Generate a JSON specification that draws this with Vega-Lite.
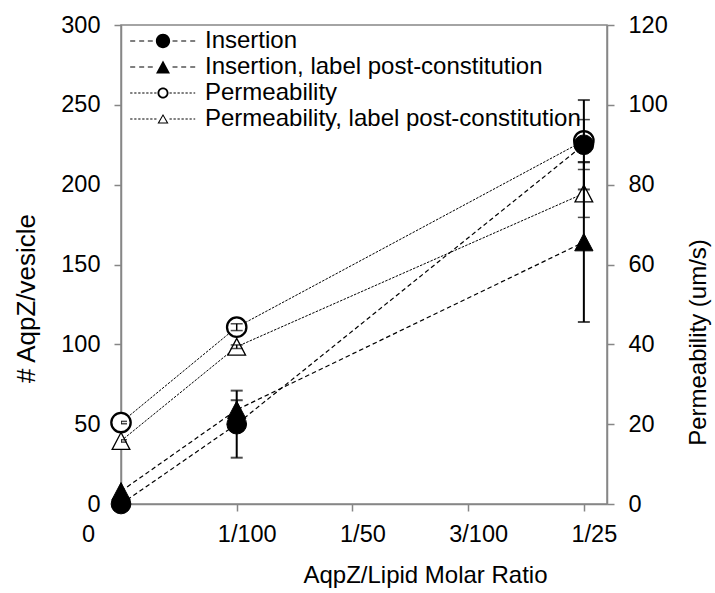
{
  "$schema": "https://vega.github.io/schema/vega-lite/v6.json",
  "width": 486,
  "height": 479,
  "autosize": {"type": "none"},
  "padding": {"left": 121, "top": 25, "right": 108, "bottom": 89},
  "background": "white",
  "config": {
    "font": "Liberation Sans",
    "view": {"stroke": "#868686", "strokeWidth": 1.5},
    "axis": {
      "grid": false,
      "domainColor": "#868686",
      "domainWidth": 1.5,
      "tickColor": "#868686",
      "tickWidth": 1.5,
      "tickSize": 7,
      "labelFont": "Liberation Sans",
      "labelFontSize": 23.5,
      "labelColor": "black",
      "titleFont": "Liberation Sans",
      "titleFontSize": 24,
      "titleFontWeight": "normal",
      "titleColor": "black"
    }
  },
  "datasets": {
    "insertion": [
      {"ratio": 0, "series": "Insertion", "value": 0, "err": null},
      {"ratio": 0.01, "series": "Insertion", "value": 50, "err": 21},
      {"ratio": 0.04, "series": "Insertion", "value": 225, "err": 28},
      {"ratio": 0, "series": "Insertion, label post-constitution", "value": 8, "err": null},
      {"ratio": 0.01, "series": "Insertion, label post-constitution", "value": 59, "err": 6},
      {"ratio": 0.04, "series": "Insertion, label post-constitution", "value": 164, "err": 50}
    ],
    "permeability": [
      {"ratio": 0, "series": "Permeability", "value": 20.4, "err": 0.3},
      {"ratio": 0.01, "series": "Permeability", "value": 44.3, "err": 0.85},
      {"ratio": 0.04, "series": "Permeability", "value": 91, "err": 5.3},
      {"ratio": 0, "series": "Permeability, label post-constitution", "value": 15.8, "err": 0.3},
      {"ratio": 0.01, "series": "Permeability, label post-constitution", "value": 39.4, "err": 0.45},
      {"ratio": 0.04, "series": "Permeability, label post-constitution", "value": 77.8, "err": 6}
    ]
  },
  "encoding": {
    "x": {
      "field": "ratio",
      "type": "quantitative",
      "scale": {"domain": [0, 0.042], "nice": false, "zero": true},
      "axis": {
        "title": "AqpZ/Lipid Molar Ratio",
        "values": [0, 0.01, 0.02, 0.03, 0.04],
        "labelExpr": "datum.value < 0.005 ? '0' : datum.value < 0.015 ? '1/100' : datum.value < 0.025 ? '1/50' : datum.value < 0.035 ? '3/100' : '1/25'",
        "labelOffset": {"expr": "datum.value < 0.005 ? -33 : 10"},
        "labelPadding": 11,
        "labelFlush": false,
        "labelOverlap": false,
        "titlePadding": 18,
        "titleX": 304
      }
    }
  },
  "layer": [
    {
      "data": {"name": "permeability"},
      "encoding": {
        "y": {
          "field": "value",
          "type": "quantitative",
          "scale": {"domain": [0, 120], "nice": false},
          "axis": {
            "title": "Permeability (um/s)",
            "orient": "right",
            "values": [0, 20, 40, 60, 80, 100, 120],
            "labelPadding": 14,
            "titlePadding": 19,
            "titleFontSize": 24,
            "titleAngle": 270,
            "titleBaseline": "top",
            "titleY": 317
          }
        }
      },
      "layer": [
        {
          "mark": {"type": "line", "color": "black", "strokeWidth": 1, "strokeDash": [2.5, 1.3]},
          "encoding": {"detail": {"field": "series"}}
        },
        {
          "transform": [{"filter": "datum.series === 'Permeability'"}],
          "mark": {"type": "point", "shape": "circle", "filled": false, "fill": "white", "stroke": "black", "strokeWidth": 2.3, "size": 376, "opacity": 1}
        },
        {
          "transform": [{"filter": "datum.series === 'Permeability, label post-constitution'"}],
          "mark": {"type": "point", "shape": "M0,-0.95L1,0.95L-1,0.95Z", "filled": false, "fill": "white", "stroke": "black", "strokeWidth": 1.3, "size": 313, "opacity": 1}
        },
        {
          "transform": [{"filter": "datum.err != null"}],
          "mark": {"type": "errorbar", "color": "black", "thickness": 1.5, "ticks": {"size": 12}, "clip": true},
          "encoding": {"yError": {"field": "err"}}
        }
      ]
    },
    {
      "data": {"name": "insertion"},
      "encoding": {
        "y": {
          "field": "value",
          "type": "quantitative",
          "scale": {"domain": [0, 300], "nice": false},
          "axis": {
            "title": "# AqpZ/vesicle",
            "orient": "left",
            "values": [0, 50, 100, 150, 200, 250, 300],
            "labelPadding": 14,
            "titlePadding": 21,
            "titleFontSize": 26,
            "titleY": 273
          }
        }
      },
      "layer": [
        {
          "mark": {"type": "line", "color": "black", "strokeWidth": 1.2, "strokeDash": [4.5, 3]},
          "encoding": {"detail": {"field": "series"}}
        },
        {
          "transform": [{"filter": "datum.series === 'Insertion'"}],
          "mark": {"type": "point", "filled": true, "fill": "black", "stroke": "black", "strokeWidth": 1, "size": 388},
          "encoding": {
            "opacity": {
              "field": "series",
              "type": "nominal",
              "scale": {
                "domain": ["Insertion", "Insertion, label post-constitution", "Permeability", "Permeability, label post-constitution"],
                "range": [1, 1, 1, 1]
              },
              "legend": {
                "title": null,
                "orient": "none",
                "legendX": 30,
                "legendY": 4,
                "padding": 0,
                "symbolSize": 196,
                "symbolType": {"expr": "datum.value === 'Insertion' ? 'M-4.69,-0.08L-3.97,-0.08L-3.97,0.08L-4.69,0.08ZM-3.4,-0.08L-2.69,-0.08L-2.69,0.08L-3.4,0.08ZM-2.17,-0.08L-1.46,-0.08L-1.46,0.08L-2.17,0.08ZM1.36,-0.08L2.07,-0.08L2.07,0.08L1.36,0.08ZM2.6,-0.08L3.31,-0.08L3.31,0.08L2.6,0.08ZM3.89,-0.08L4.6,-0.08L4.6,0.08L3.89,0.08ZM1.02,0A1.02,1.02,0,1,1,-1.02,0A1.02,1.02,0,1,1,1.02,0Z' : datum.value === 'Insertion, label post-constitution' ? 'M-4.69,-0.08L-3.97,-0.08L-3.97,0.08L-4.69,0.08ZM-3.4,-0.08L-2.69,-0.08L-2.69,0.08L-3.4,0.08ZM-2.17,-0.08L-1.46,-0.08L-1.46,0.08L-2.17,0.08ZM1.36,-0.08L2.07,-0.08L2.07,0.08L1.36,0.08ZM2.6,-0.08L3.31,-0.08L3.31,0.08L2.6,0.08ZM3.89,-0.08L4.6,-0.08L4.6,0.08L3.89,0.08ZM0,-0.93L1,0.93L-1,0.93Z' : datum.value === 'Permeability' ? 'M-4.69,-0.07L-4.36,-0.07L-4.36,0.07L-4.69,0.07ZM-4.11,-0.07L-3.79,-0.07L-3.79,0.07L-4.11,0.07ZM-3.54,-0.07L-3.21,-0.07L-3.21,0.07L-3.54,0.07ZM-2.97,-0.07L-2.64,-0.07L-2.64,0.07L-2.97,0.07ZM-2.4,-0.07L-2.07,-0.07L-2.07,0.07L-2.4,0.07ZM-1.83,-0.07L-1.5,-0.07L-1.5,0.07L-1.83,0.07ZM-1.26,-0.07L-0.93,-0.07L-0.93,0.07L-1.26,0.07ZM0.93,-0.07L1.26,-0.07L1.26,0.07L0.93,0.07ZM1.5,-0.07L1.83,-0.07L1.83,0.07L1.5,0.07ZM2.07,-0.07L2.4,-0.07L2.4,0.07L2.07,0.07ZM2.64,-0.07L2.97,-0.07L2.97,0.07L2.64,0.07ZM3.21,-0.07L3.54,-0.07L3.54,0.07L3.21,0.07ZM3.79,-0.07L4.11,-0.07L4.11,0.07L3.79,0.07ZM4.36,-0.07L4.6,-0.07L4.6,0.07L4.36,0.07ZM0.79,0A0.79,0.79,0,1,1,-0.79,0A0.79,0.79,0,1,1,0.79,0ZM0.53,0A0.53,0.53,0,1,0,-0.53,0A0.53,0.53,0,1,0,0.53,0Z' : 'M-4.69,-0.07L-4.36,-0.07L-4.36,0.07L-4.69,0.07ZM-4.11,-0.07L-3.79,-0.07L-3.79,0.07L-4.11,0.07ZM-3.54,-0.07L-3.21,-0.07L-3.21,0.07L-3.54,0.07ZM-2.97,-0.07L-2.64,-0.07L-2.64,0.07L-2.97,0.07ZM-2.4,-0.07L-2.07,-0.07L-2.07,0.07L-2.4,0.07ZM-1.83,-0.07L-1.5,-0.07L-1.5,0.07L-1.83,0.07ZM-1.26,-0.07L-0.93,-0.07L-0.93,0.07L-1.26,0.07ZM0.93,-0.07L1.26,-0.07L1.26,0.07L0.93,0.07ZM1.5,-0.07L1.83,-0.07L1.83,0.07L1.5,0.07ZM2.07,-0.07L2.4,-0.07L2.4,0.07L2.07,0.07ZM2.64,-0.07L2.97,-0.07L2.97,0.07L2.64,0.07ZM3.21,-0.07L3.54,-0.07L3.54,0.07L3.21,0.07ZM3.79,-0.07L4.11,-0.07L4.11,0.07L3.79,0.07ZM4.36,-0.07L4.6,-0.07L4.6,0.07L4.36,0.07ZM0,-0.71L0.79,0.64L-0.79,0.64ZM0,-0.413L-0.528,0.49L0.528,0.49Z'"},
                "symbolFillColor": "black",
                "symbolStrokeColor": "black",
                "symbolStrokeWidth": 1,
                "symbolOpacity": 1,
                "labelOffset": 30,
                "labelFont": "Liberation Sans",
                "labelFontSize": 24,
                "labelColor": "black",
                "labelLimit": 600,
                "rowPadding": 2
              }
            }
          }
        },
        {
          "transform": [{"filter": "datum.series === 'Insertion, label post-constitution'"}],
          "mark": {"type": "point", "shape": "M0,-0.95L1,0.95L-1,0.95Z", "filled": true, "fill": "black", "stroke": "black", "strokeWidth": 1, "size": 335, "opacity": 1}
        },
        {
          "transform": [{"filter": "datum.err != null"}],
          "mark": {"type": "errorbar", "color": "black", "thickness": 2, "ticks": {"size": 12}, "clip": true},
          "encoding": {"yError": {"field": "err"}}
        }
      ]
    }
  ],
  "resolve": {"scale": {"y": "independent"}}
}
